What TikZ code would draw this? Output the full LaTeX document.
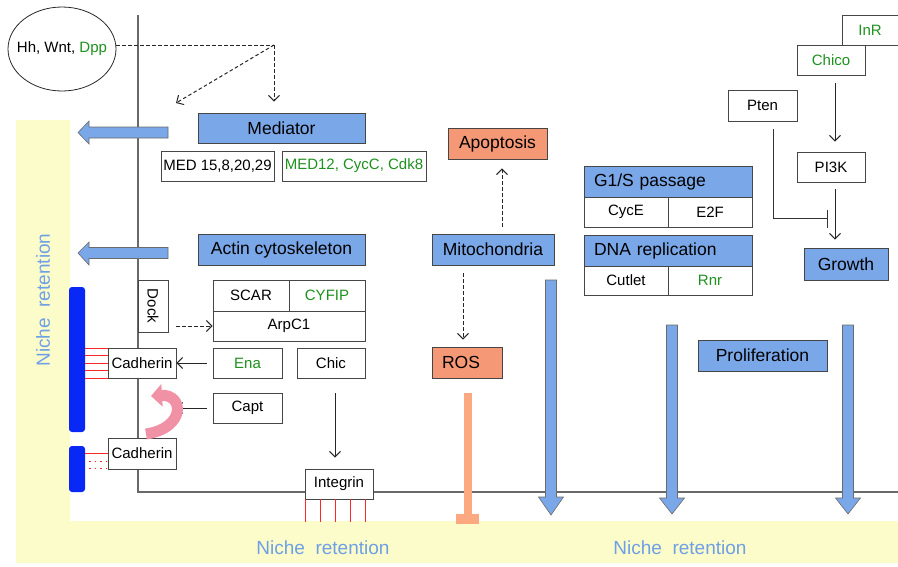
\documentclass[tikz,border=0pt]{standalone}
\usepackage{fontspec}
\usepackage{graphicx}
\setmainfont{Liberation Sans}
\usetikzlibrary{arrows.meta,shapes.geometric,calc}
\definecolor{bblue}{RGB}{122,167,232}
\definecolor{salmon}{RGB}{245,152,118}
\definecolor{inhibc}{RGB}{252,168,128}
\definecolor{yel}{RGB}{252,252,202}
\definecolor{dblue}{RGB}{10,40,245}
\definecolor{nich}{RGB}{110,160,230}
\definecolor{grn}{RGB}{30,145,30}
\definecolor{pinkc}{RGB}{240,145,165}
\definecolor{gline}{RGB}{105,105,105}
\definecolor{bord}{RGB}{70,70,70}
\definecolor{redc}{RGB}{255,40,40}
\begin{document}
\begin{tikzpicture}[x=1pt,y=-1pt,
  box/.style={draw=bord,line width=0.8pt,fill=white,inner sep=0pt,font=\fontsize{15}{18}\selectfont},
  bbox/.style={box,fill=bblue,font=\fontsize{17.5}{20}\selectfont},
  sbox/.style={box,fill=salmon,font=\fontsize{17.5}{20}\selectfont},
  dbar/.style={fill=dblue,rounded corners=3pt,inner sep=0pt,minimum width=16pt},
  arr/.style={draw=black!85,line width=1pt,-{Straight Barb[length=5.5pt,width=11pt]}},
  darr/.style={arr,dash pattern=on 3.5pt off 2.5pt},
  redl/.style={draw=redc,line width=1pt},
  niche/.style={text=nich,font=\fontsize{19}{22}\selectfont},
  bigarr/.style={fill=bblue,draw=bord!80,line width=0.6pt}
]
\useasboundingbox (0,0) rectangle (898,566);
% yellow niche region
\fill[yel] (16,120) -- (70,120) -- (70,521) -- (898,521) -- (898,563) -- (16,563) -- cycle;
\node[niche,rotate=90] (nl) at (43,300) {Niche\ \ retention};
\node[niche] (nb1) at (323,548) {Niche\ \ retention};
\node[niche] (nb2) at (680,548) {Niche\ \ retention};
% gray cell outline
\draw[gline,line width=1.3pt] (138,15) -- (138,492) -- (898,492);
% left blue arrows
\draw[bigarr] (78,132.5) -- (89,121) -- (89,127) -- (168,127) -- (168,138) -- (89,138) -- (89,144) -- cycle;
\draw[bigarr] (78,253) -- (89,242) -- (89,247.5) -- (168,247.5) -- (168,258.5) -- (89,258.5) -- (89,265) -- cycle;
% big down arrows
\draw[bigarr] (545.5,280) -- (556.5,280) -- (556.5,497) -- (563.5,497) -- (551,515) -- (538.5,497) -- (545.5,497) -- cycle;
\draw[bigarr] (666.5,325) -- (677.5,325) -- (677.5,498) -- (684.5,498) -- (672,514) -- (659.5,498) -- (666.5,498) -- cycle;
\draw[bigarr] (842.5,325) -- (853.5,325) -- (853.5,498) -- (860.5,498) -- (848,514) -- (835.5,498) -- (842.5,498) -- cycle;
% signal ellipse
\node[ellipse,draw=black!85,line width=0.8pt,minimum width=108pt,minimum height=84pt,inner sep=0pt] (sig) at (62,49) {};
\node[font=\fontsize{15}{18}\selectfont,inner sep=0pt] (sigt) at (sig.center) {Hh, Wnt, \textcolor{grn}{Dpp}};
% mediator
\node[bbox,minimum width=167pt,minimum height=30pt] (med) at (281.5,128) {Mediator};
\node[box,minimum width=113pt,minimum height=30pt] (med1) at (217.5,166) {MED 15,8,20,29};
\node[box,minimum width=144pt,minimum height=30pt,text=grn] (med2) at (354,166) {MED12, CycC, Cdk8};
\coordinate (corner) at (274,45);
\coordinate (dtip) at (176,103);
\draw[black!85,line width=1pt,dash pattern=on 3.5pt off 2.5pt] (sig.east |- corner) -- (corner);
\draw[darr] (corner) -- (corner |- med.north) [shorten >=11pt];
\draw[darr] (corner) -- (dtip);
% actin
\node[bbox,minimum width=167pt,minimum height=31pt] (actin) at (281.5,249.5) {Actin cytoskeleton};
\node[box,minimum width=30pt,minimum height=52pt] (dock) at (153,306) {\rotatebox{-90}{Dock}};
\node[box,minimum width=76pt,minimum height=31pt] (scar) at (251,295.5) {SCAR};
\node[box,minimum width=76pt,minimum height=31pt,text=grn] (cyfip) at (327,295.5) {CYFIP};
\node[box,minimum width=152pt,minimum height=30pt] (arpc) at (289,326) {ArpC1};
\draw[darr,shorten <=8pt] (dock.east |- arpc.west) -- (arpc.west);
% bars and cadherins
\node[dbar,minimum height=145pt] (bar1) at (77,359.5) {};
\node[dbar,minimum height=46pt] (bar2) at (77,469) {};
\node[box,minimum width=68pt,minimum height=30pt] (cad1) at (142,363) {Cadherin};
\node[box,minimum width=68pt,minimum height=31pt] (cad2) at (142,453.5) {Cadherin};
\foreach \dy in {-15,-7.5,0,7.5,15}{
  \coordinate (cw) at ($(cad1.west)+(0,\dy)$);
  \draw[redl] (bar1.east |- cw) -- (cw);
}
\draw[redl] (bar2.east |- cad2.west) -- (cad2.west);
\draw[redl,dash pattern=on 1.5pt off 4pt] ($(bar2.east |- cad2.west)+(4,8)$) -- ($(cad2.west)+(0,8)$);
\draw[redl,dash pattern=on 1.5pt off 4pt] ($(bar2.east |- cad2.west)+(4,15)$) -- ($(cad2.west)+(0,15)$);
\node[box,minimum width=69pt,minimum height=30pt,text=grn] (ena) at (247.5,363) {Ena};
\node[box,minimum width=68pt,minimum height=30pt] (chic) at (331,363) {Chic};
\node[box,minimum width=69pt,minimum height=30pt] (capt) at (247.5,408) {Capt};
\draw[arr,shorten <=6pt] (ena.west) -- (cad1.east);
\draw[arr,shorten <=6pt] (capt.west) -- (capt.west -| cad1.east);
% pink curved arrow
\draw[pinkc,line width=11pt,-{Triangle[length=11pt,width=22pt]}] (146,434) .. controls (186,428) and (184,394) .. (151,396);
% integrin
\node[box,minimum width=68pt,minimum height=30pt] (integ) at (339,484) {Integrin};
\foreach \dx in {-34,-19,-4,11,26}
  \draw[redl] ($(integ.south)+(\dx,0)$) -- ($(integ.south)+(\dx,23)$);
\draw[arr] ($(chic.south)+(4,15)$) -- ($(integ.north)+(-4,-11)$);
% mitochondria etc
\node[sbox,minimum width=99pt,minimum height=31pt] (apop) at (497.5,143.5) {Apoptosis};
\node[bbox,minimum width=122pt,minimum height=31pt] (mito) at (493,249.5) {Mitochondria};
\node[sbox,minimum width=70pt,minimum height=31pt,text width=50pt,align=left] (ros) at (467,362.5) {ROS};
\draw[darr] ($(mito.north)+(9,-7)$) -- ($(apop.south)+(4.5,9)$);
\draw[darr] ($(mito.south)+(-30,8)$) -- ($(ros.north)+(-4,-7)$);
\draw[inhibc,line width=8pt] ($(ros.south)+(0.5,15)$) -- ($(ros.south)+(0.5,137)$);
\draw[inhibc,line width=10pt] ($(ros.south)+(-11,141)$) -- ($(ros.south)+(12,141)$);
% G1/S and DNA replication
\node[bbox,minimum width=168pt,minimum height=31pt,text width=148pt,align=left] (g1s) at (668,181.5) {G1/S passage};
\node[box,minimum width=84pt,minimum height=30pt] (cyce) at (626,212) {CycE};
\node[box,minimum width=84pt,minimum height=30pt] (e2f) at (710,212) {E2F};
\node[bbox,minimum width=168pt,minimum height=31pt,text width=148pt,align=left] (dna) at (668,250.5) {DNA replication};
\node[box,minimum width=84pt,minimum height=29pt] (cutlet) at (626,280.5) {Cutlet};
\node[box,minimum width=84pt,minimum height=29pt,text=grn] (rnr) at (710,280.5) {Rnr};
\node[bbox,minimum width=129pt,minimum height=31pt] (prolif) at (762.5,355.5) {Proliferation};
% growth pathway
\node[box,minimum width=56pt,minimum height=30pt,text=grn] (inr) at (870,30) {InR};
\node[box,minimum width=68pt,minimum height=30pt,text=grn] (chico) at (831,60) {Chico};
\node[box,minimum width=69pt,minimum height=31pt] (pten) at (762.5,105.5) {Pten};
\node[box,minimum width=68pt,minimum height=30pt] (pi3k) at (831,167) {PI3K};
\node[bbox,minimum width=84pt,minimum height=32pt] (growth) at (846,264) {Growth};
\draw[arr] ($(chico.south)+(4,8)$) -- ($(pi3k.north)+(4,-10)$);
\draw[arr] ($(pi3k.south)+(4,7)$) -- ($(growth.north)+(-11,-8)$);
\draw[draw=black!80,line width=1pt,-{Bar[width=18pt]}] ($(pten.south)+(10.5,8)$) |- ($(growth.north)+(-18,-29)$);
\end{tikzpicture}
\end{document}
